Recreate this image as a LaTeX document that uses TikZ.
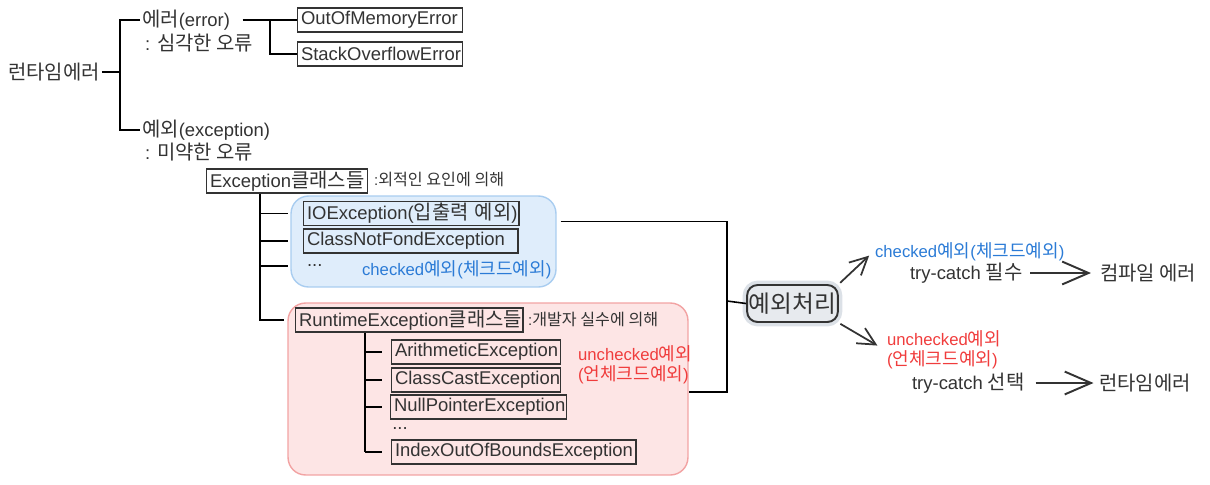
\documentclass[tikz,border=0pt]{standalone}
\usepackage{fontspec}
\setmainfont{Liberation Sans}
\newfontfamily\kofont[Scale=1.08]{Noto Sans CJK KR}
\newcommand{\ko}[1]{{\kofont #1}}
\usetikzlibrary{calc}
\usetikzlibrary{arrows.meta}
\definecolor{chkblue}{HTML}{2B7BD6}
\definecolor{unred}{HTML}{F03C3C}
\definecolor{bluefill}{HTML}{DFEDFB}
\definecolor{blueline}{HTML}{A9CDF0}
\definecolor{redfill}{HTML}{FDE5E5}
\definecolor{redline}{HTML}{F2A3A3}
\definecolor{txtgray}{HTML}{333333}
\definecolor{hdlfill}{HTML}{E7EAEE}
\definecolor{hdlhalo}{HTML}{DCE1E7}
\tikzset{
	txt/.style={font=\fontsize{10.5}{12}\selectfont,text=txtgray,inner sep=1pt,anchor=west},
	small/.style={font=\fontsize{8.5}{10}\selectfont,text=txtgray,inner sep=1pt,anchor=west},
	lbl/.style={font=\fontsize{9.5}{11.5}\selectfont,inner sep=1pt,anchor=west},
	clsbox/.style={txt,draw=txtgray,line width=0.6pt,inner xsep=2pt,inner ysep=1pt,text width=#1,align=left,minimum height=0.48cm},
	grp/.style={draw=#1,line width=0.8pt,rounded corners=10pt},
	brk/.style={line width=1.1pt,black},
	handle/.style={draw=txtgray,fill=hdlfill,line width=1.1pt,rounded corners=6pt,minimum width=1.78cm,minimum height=0.74cm,inner sep=1pt,font=\fontsize{12.5}{15}\selectfont,text=txtgray,preaction={draw=hdlhalo,line width=5pt}},
	arr/.style={line width=1pt,txtgray,-{Straight Barb[length=10pt,width=10pt]}},
	bigarr/.style={line width=1.1pt,txtgray,-{Straight Barb[length=15pt,width=13pt]}}
}
\begin{document}
\begin{tikzpicture}[x=0.02cm,y=-0.02cm]
	\useasboundingbox (0,0) rectangle (1210,484);
	
	%GROUP BOXES
	\node[grp=blueline,fill=bluefill,minimum width=5.3cm,minimum height=1.82cm] (chkbox) at (423.5,241.5) {};
	\node[grp=redline,fill=redfill,minimum width=8cm,minimum height=3.44cm] (unchkbox) at (488,389) {};
	
	%RUNTIME ERROR TREE
	\node[txt] (rt) at (6,72) {\ko{런타임에러}};
	\node[txt] (err) at (140,20) {\ko{에러}(error)};
	\node[txt] (errnote) at (143,43) {: \ko{심각한 오류}};
	\node[txt] (exc) at (140,130) {\ko{예외}(exception)};
	\node[txt] (excnote) at (143,152) {: \ko{미약한 오류}};
	\coordinate (b1) at (120,72);
	\draw[brk] (rt.east) -- (b1);
	\draw[brk] (err.west) -| (b1) |- (exc.west);
	
	\node[clsbox=3.15cm] (oom) at (297,20) {OutOfMemoryError};
	\node[clsbox=3.15cm] (soe) at (297,54) {StackOverflowError};
	\draw[brk] ([xshift=6pt]err.east) -- (oom.west);
	\draw[brk] ($(oom.west)+(-27,0)$) |- (soe.west);
	
	%CHECKED
	\node[clsbox=3.07cm] (excls) at (206,181) {Exception\ko{클래스들}};
	\node[small] (extnote) at (372,179) {:\ko{외적인 요인에 의해}};
	\coordinate (v1) at ($(excls.south west)+(54,0)$);
	\node[clsbox=4.17cm] (io) at (303,213.5) {\mbox{IOException(\ko{입출력 예외})}};
	\node[clsbox=4.15cm] (cnf) at (303,241) {ClassNotFondException};
	\node[txt] (dots1) at (305,266) {...};
	\node[lbl,text=chkblue] (chk) at (360,270) {checked\ko{예외}(\ko{체크드예외})};
	\foreach \n in {io,cnf,dots1}{
		\draw[brk] (v1 |- \n.west) -- ++(28,0);
	}
	
	%UNCHECKED
	\node[clsbox=4.41cm] (rtcls) at (295,320) {RuntimeException\ko{클래스들}};
	\node[small] (devnote) at (526,319) {:\ko{개발자 실수에 의해}};
	\draw[brk] (v1) |- ([xshift=-6pt]rtcls.west);
	\coordinate (v2) at ($(rtcls.south west)+(70,0)$);
	\node[clsbox=3.23cm] (ar) at (391,352) {ArithmeticException};
	\node[clsbox=3.23cm] (cc) at (391,380) {ClassCastException};
	\node[clsbox=3.37cm] (np) at (390,407) {NullPointerException};
	\node[txt,inner sep=0pt] (dots2) at (392,429) {...};
	\node[clsbox=4.75cm] (ioob) at (391,452) {IndexOutOfBoundsException};
	\node[lbl,text=unred,align=left] (unchk) at (576,365) {unchecked\ko{예외}\\(\ko{언체크드예외})};
	\draw[brk] (v2) -- (v2 |- ioob.west);
	\foreach \n in {ar,cc,np,ioob}{
		\draw[brk] (v2 |- \n.west) -- ++(17,0);
	}
	
	%HANDLING
	\node[handle] (hdl) at (792.5,303.5) {\ko{예외처리}};
	\coordinate (jn) at (727,301);
	\draw[brk,line width=0.9pt] ($(chkbox.east)+(4,-20)$) -| (jn) |- ($(unchkbox.east)+(0,3)$);
	\draw[brk,line width=0.9pt] (jn) -- (hdl.west);
	
	\node[lbl,text=chkblue] (chk2) at (873,252) {checked\ko{예외}(\ko{체크드예외})};
	\node[txt] (try1) at (908,273) {try-catch \ko{필수}};
	\node[txt] (cmp) at (1098,273) {\ko{컴파일 에러}};
	\node[lbl,text=unred,align=left] (unchk2) at (885,350) {unchecked\ko{예외}\\(\ko{언체크드예외})};
	\node[txt] (try2) at (910,383) {try-catch \ko{선택}};
	\node[txt] (rtm2) at (1097,383) {\ko{런타임에러}};
	\draw[arr,shorten <=1pt,shorten >=3pt] (hdl.north east) -- (chk2.west);
	\draw[arr,shorten <=1pt,shorten >=5pt] (hdl.south east) -- (unchk2.west);
	\draw[bigarr,shorten <=3pt,shorten >=4pt] (try1.east) -- (cmp.west);
	\draw[bigarr,shorten <=5pt,shorten >=2pt] (try2.east) -- (rtm2.west);
\end{tikzpicture}
\end{document}
